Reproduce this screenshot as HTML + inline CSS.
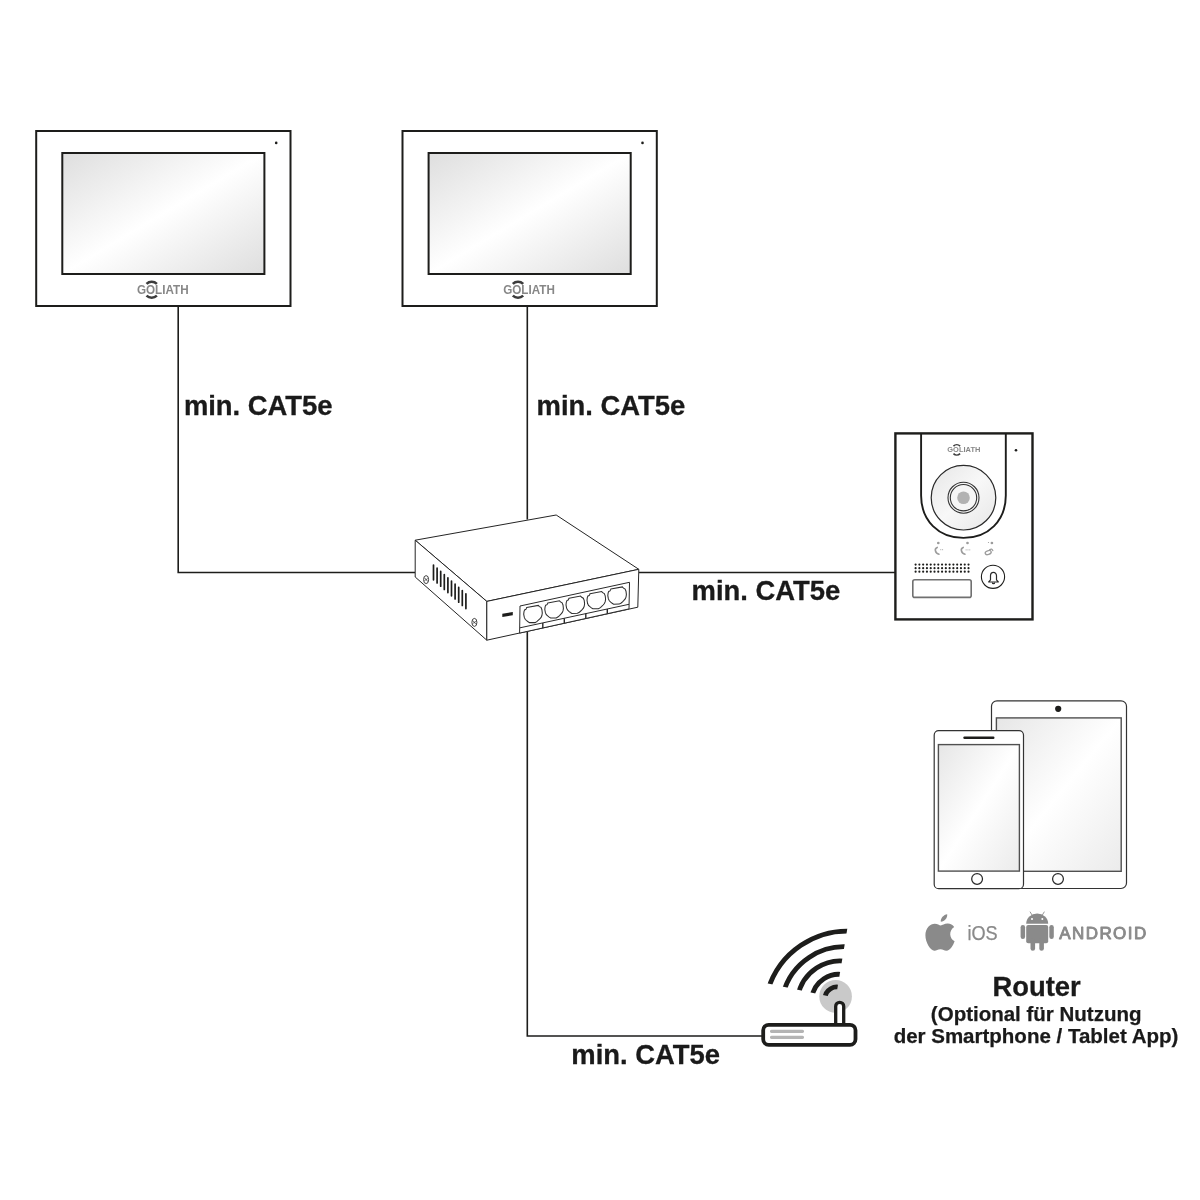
<!DOCTYPE html>
<html lang="de">
<head>
<meta charset="utf-8">
<title>Goliath IP Türsprechanlage – Anschlussplan</title>
<style>
  html, body { margin: 0; padding: 0; background: #ffffff; }
  body { width: 1200px; height: 1200px; overflow: hidden; }
  svg { display: block; will-change: transform; }
  text { font-family: "Liberation Sans", sans-serif; }
  .lbl { font-weight: bold; font-size: 27.4px; fill: #1a1a1a; stroke: #1a1a1a; stroke-width: 0.3px; }
  .sub { font-weight: bold; font-size: 20.5px; fill: #1a1a1a; stroke: #1a1a1a; stroke-width: 0.25px; }
  .wire { stroke: #1d1d1b; stroke-width: 1.6; fill: none; }
  .thin { stroke: #242424; stroke-width: 1; stroke-linejoin: round; }
</style>
</head>
<body>
<svg width="1200" height="1200" viewBox="0 0 1200 1200">
  <defs>
    <linearGradient id="scr" x1="0" y1="0" x2="1" y2="1">
      <stop offset="0" stop-color="#dedede"/>
      <stop offset="0.5" stop-color="#ffffff"/>
      <stop offset="1" stop-color="#dedede"/>
    </linearGradient>
    <linearGradient id="lens" x1="0" y1="0" x2="1" y2="1">
      <stop offset="0" stop-color="#e6e6e6"/>
      <stop offset="0.5" stop-color="#f8f8f8"/>
      <stop offset="1" stop-color="#e6e6e6"/>
    </linearGradient>
    <linearGradient id="scr2" x1="0" y1="0" x2="1" y2="1">
      <stop offset="0" stop-color="#e6e6e6"/>
      <stop offset="0.5" stop-color="#ffffff"/>
      <stop offset="1" stop-color="#ebebeb"/>
    </linearGradient>
    <clipPath id="wedge"><polygon points="835.83,997.76 736,976.85 736,900 852.06,900"/></clipPath>
  </defs>
  <rect x="0" y="0" width="1200" height="1200" fill="#ffffff"/>

  <!-- WIRES -->
  <path class="wire" d="M178.2 306 V572.5 H415"/>
  <path class="wire" d="M527.3 306 V519.5"/>
  <path class="wire" d="M639 572.5 H895"/>
  <path class="wire" d="M527.3 632 V1036 H762"/>

  <!-- MONITORS -->
  <g>
    <rect x="36.2" y="131" width="254.3" height="175" fill="#ffffff" stroke="#1d1d1b" stroke-width="2"/>
    <rect x="62.3" y="153" width="202.1" height="121" fill="url(#scr)" stroke="#1d1d1b" stroke-width="2"/>
    <circle cx="276.2" cy="142.9" r="1.3" fill="#1d1d1b"/>
    <g transform="translate(136.9 293.6)">
      <text x="0" y="0" font-size="12.4" font-weight="bold" fill="#878787" textLength="51.7" lengthAdjust="spacingAndGlyphs">GOLIATH</text>
      <path d="M9.6 -9.7 A7.4 7.4 0 0 1 20 -9.7 M9.6 2 A7.4 7.4 0 0 0 20 2" fill="none" stroke="#3c3c3c" stroke-width="2.5"/>
    </g>
  </g>
  <g>
    <rect x="402.5" y="131" width="254.3" height="175" fill="#ffffff" stroke="#1d1d1b" stroke-width="2"/>
    <rect x="428.6" y="153" width="202.1" height="121" fill="url(#scr)" stroke="#1d1d1b" stroke-width="2"/>
    <circle cx="642.5" cy="142.9" r="1.3" fill="#1d1d1b"/>
    <g transform="translate(503.2 293.6)">
      <text x="0" y="0" font-size="12.4" font-weight="bold" fill="#878787" textLength="51.7" lengthAdjust="spacingAndGlyphs">GOLIATH</text>
      <path d="M9.6 -9.7 A7.4 7.4 0 0 1 20 -9.7 M9.6 2 A7.4 7.4 0 0 0 20 2" fill="none" stroke="#3c3c3c" stroke-width="2.5"/>
    </g>
  </g>

  <!-- LABELS -->
  <text class="lbl" x="183.9" y="415.1">min. CAT5e</text>
  <text class="lbl" x="536.6" y="415.1">min. CAT5e</text>
  <text class="lbl" x="691.6" y="599.8">min. CAT5e</text>
  <text class="lbl" x="571.3" y="1064.1">min. CAT5e</text>

  <!-- SWITCH -->
  <g id="switch">
    <polygon points="415.2,540.2 556.2,515.0 638.8,569.3 486.8,601.4" fill="#fff" class="thin"/>
    <polygon points="415.2,540.2 415.2,577.0 486.8,640.2 486.8,601.4" fill="#fff" class="thin"/>
    <polygon points="486.8,601.4 486.8,640.2 637.8,607.2 638.8,569.3" fill="#fff" class="thin"/>
    <path d="M433.5 565.0v14.8 M437.1 568.2v14.8 M440.7 571.4v14.8 M444.3 574.6v14.8 M447.9 577.8v14.8 M451.5 581.0v14.8 M455.1 584.2v14.8 M458.7 587.4v14.8 M462.3 590.6v14.8 M465.9 593.8v14.8" stroke="#1d1d1b" stroke-width="1.7" stroke-linecap="round" fill="none"/>
    <ellipse cx="426.1" cy="579.6" rx="2.5" ry="4" fill="#fff" stroke="#2a2a2a" stroke-width="0.9"/>
    <path d="M424.6 577.8 L427.6 581.4 M424.5 580.6 L427.7 578.6" stroke="#2a2a2a" stroke-width="0.7" fill="none"/>
    <ellipse cx="474.4" cy="622.4" rx="2.5" ry="4" fill="#fff" stroke="#2a2a2a" stroke-width="0.9"/>
    <path d="M472.9 620.6 L475.9 624.2 M472.8 623.4 L476.0 621.4" stroke="#2a2a2a" stroke-width="0.7" fill="none"/>
    <polygon points="502.3,613.8 512.8,612 512.8,615.3 502.3,617.1" fill="#1d1d1b"/>
    <polygon points="520.0,606.0 629.5,582.3 629.0,608.9 519.6,633.1" fill="#fff" stroke="#2a2a2a" stroke-width="1"/>
    <path d="M520.0 627.8 L629.0 604.3" fill="none" stroke="#2a2a2a" stroke-width="1"/>
    <path d="M542.8 622.9V628.0 M564.3 618.2V623.2 M585.8 613.6V618.5 M607.3 609.0V613.7" stroke="#2a2a2a" stroke-width="1.4" fill="none"/>
    <path id="ports" d="M526.7 607.5 L538.3 605.4 L539.4 606.6 L541.0 607.4 L541.9 609.7 L542.3 613.1 L541.9 615.5 L541.1 617.4 L539.8 618.9 L538.4 620.2 L537.1 621.4 L535.1 622.6 L529.5 622.6 L528.1 621.7 L526.6 620.6 L525.2 619.3 L524.3 617.4 L523.7 614.2 L524.0 611.6 L524.6 609.9 L525.9 609.3 L526.4 608.4Z M547.8 602.9 L559.4 600.7 L560.5 601.9 L562.1 602.8 L563.0 605.0 L563.4 608.4 L563.0 610.9 L562.2 612.7 L560.9 614.2 L559.5 615.6 L558.2 616.8 L556.2 617.9 L550.6 618.0 L549.2 617.1 L547.7 615.9 L546.3 614.6 L545.4 612.7 L544.8 609.5 L545.1 606.9 L545.7 605.2 L547.0 604.7 L547.5 603.7Z M569.0 598.3 L580.6 596.1 L581.7 597.3 L583.3 598.2 L584.2 600.4 L584.6 603.8 L584.2 606.3 L583.4 608.1 L582.1 609.6 L580.7 611.0 L579.4 612.2 L577.4 613.3 L571.8 613.4 L570.4 612.5 L568.9 611.3 L567.5 610.0 L566.6 608.1 L566.0 604.9 L566.3 602.3 L566.9 600.6 L568.2 600.1 L568.7 599.1Z M590.0 593.7 L601.6 591.5 L602.7 592.7 L604.3 593.6 L605.2 595.8 L605.6 599.2 L605.2 601.7 L604.4 603.5 L603.1 605.0 L601.7 606.4 L600.4 607.6 L598.4 608.7 L592.8 608.8 L591.4 607.9 L589.9 606.7 L588.5 605.4 L587.6 603.5 L587.0 600.3 L587.3 597.7 L587.9 596.0 L589.2 595.5 L589.7 594.5Z M610.8 589.1 L622.4 586.9 L623.5 588.1 L625.1 589.0 L626.0 591.2 L626.4 594.6 L626.0 597.1 L625.2 598.9 L623.9 600.4 L622.5 601.8 L621.2 603.0 L619.2 604.1 L613.6 604.2 L612.2 603.3 L610.7 602.1 L609.3 600.8 L608.4 598.9 L607.8 595.7 L608.1 593.1 L608.7 591.4 L610.0 590.9 L610.5 589.9Z" fill="#fff" stroke="#2e2e2e" stroke-width="1.05" stroke-linejoin="miter"/>
  </g>
  <!-- DOORSTATION -->
  <g id="door">
    <rect x="895.4" y="433.4" width="137.1" height="186" fill="#fff" stroke="#1d1d1b" stroke-width="2.4"/>
    <path d="M921.1 433.4 V495.5 C921.1 520.5 938.5 537.9 963.45 537.9 C988.4 537.9 1005.8 520.5 1005.8 495.5 V433.4" fill="none" stroke="#1d1d1b" stroke-width="1.9"/>
    <circle cx="963.5" cy="497.7" r="32.3" fill="url(#lens)" stroke="#2a2a2a" stroke-width="1.2"/>
    <circle cx="963.5" cy="497.7" r="15.5" fill="#f6f6f6" stroke="#333" stroke-width="1.1"/>
    <circle cx="963.5" cy="497.7" r="13.2" fill="#f6f6f6" stroke="#333" stroke-width="1.1"/>
    <circle cx="963.5" cy="497.7" r="6.3" fill="#b2b2b2"/>
    <circle cx="1016" cy="450.2" r="1.3" fill="#1d1d1b"/>
    <g transform="translate(947.3 452.3) scale(0.64)">
      <text x="0" y="0" font-size="12.4" font-weight="bold" fill="#878787" textLength="51.7" lengthAdjust="spacingAndGlyphs">GOLIATH</text>
      <path d="M9.6 -9.7 A7.4 7.4 0 0 1 20 -9.7 M9.6 2 A7.4 7.4 0 0 0 20 2" fill="none" stroke="#3c3c3c" stroke-width="2.5"/>
    </g>
    <g fill="none" stroke="#9c9c9c" stroke-width="1.3" stroke-linecap="round"><path d="M937.2 547.4 C933.8 548.6 935.4 553.6 939 554.2" stroke-width="1.6"/><path d="M963.2 547.4 C959.8 548.6 961.4 553.6 965 554.2" stroke-width="1.6"/><ellipse cx="988.2" cy="552.6" rx="3.1" ry="1.9" transform="rotate(-18 988.2 552.6)"/><path d="M989.6 549.8 q2.400 -1.800 3.200 0.800"/><path d="M940.6 549.7 h0.300 M942.4 549.7 h0.300 M966 549.9 h0.300 M967.8 549.9 h0.300 M969.6 549.9 h0.300" stroke-width="0.8"/></g>
    <g fill="#9c9c9c"><circle cx="938.3" cy="543" r="1.35"/><circle cx="967.5" cy="543" r="1.35"/><circle cx="991.9" cy="543" r="1.35"/><circle cx="988.5" cy="542.5" r="0.6"/></g>
    <g fill="#1d1d1b"><circle cx="915.60" cy="564.60" r="1.08"/><circle cx="919.38" cy="564.60" r="1.08"/><circle cx="923.16" cy="564.60" r="1.08"/><circle cx="926.94" cy="564.60" r="1.08"/><circle cx="930.72" cy="564.60" r="1.08"/><circle cx="934.50" cy="564.60" r="1.08"/><circle cx="938.28" cy="564.60" r="1.08"/><circle cx="942.06" cy="564.60" r="1.08"/><circle cx="945.84" cy="564.60" r="1.08"/><circle cx="949.62" cy="564.60" r="1.08"/><circle cx="953.40" cy="564.60" r="1.08"/><circle cx="957.18" cy="564.60" r="1.08"/><circle cx="960.96" cy="564.60" r="1.08"/><circle cx="964.74" cy="564.60" r="1.08"/><circle cx="968.52" cy="564.60" r="1.08"/><circle cx="915.60" cy="568.15" r="1.08"/><circle cx="919.38" cy="568.15" r="1.08"/><circle cx="923.16" cy="568.15" r="1.08"/><circle cx="926.94" cy="568.15" r="1.08"/><circle cx="930.72" cy="568.15" r="1.08"/><circle cx="934.50" cy="568.15" r="1.08"/><circle cx="938.28" cy="568.15" r="1.08"/><circle cx="942.06" cy="568.15" r="1.08"/><circle cx="945.84" cy="568.15" r="1.08"/><circle cx="949.62" cy="568.15" r="1.08"/><circle cx="953.40" cy="568.15" r="1.08"/><circle cx="957.18" cy="568.15" r="1.08"/><circle cx="960.96" cy="568.15" r="1.08"/><circle cx="964.74" cy="568.15" r="1.08"/><circle cx="968.52" cy="568.15" r="1.08"/><circle cx="915.60" cy="571.70" r="1.08"/><circle cx="919.38" cy="571.70" r="1.08"/><circle cx="923.16" cy="571.70" r="1.08"/><circle cx="926.94" cy="571.70" r="1.08"/><circle cx="930.72" cy="571.70" r="1.08"/><circle cx="934.50" cy="571.70" r="1.08"/><circle cx="938.28" cy="571.70" r="1.08"/><circle cx="942.06" cy="571.70" r="1.08"/><circle cx="945.84" cy="571.70" r="1.08"/><circle cx="949.62" cy="571.70" r="1.08"/><circle cx="953.40" cy="571.70" r="1.08"/><circle cx="957.18" cy="571.70" r="1.08"/><circle cx="960.96" cy="571.70" r="1.08"/><circle cx="964.74" cy="571.70" r="1.08"/><circle cx="968.52" cy="571.70" r="1.08"/></g>
    <rect x="912.8" y="579.8" width="58.4" height="17.6" rx="2" fill="#fff" stroke="#707070" stroke-width="1.6"/>
    <circle cx="993" cy="576.8" r="11.6" fill="#fff" stroke="#1d1d1b" stroke-width="1.1"/>
    <path d="M988.7 582 L990.5 579.8 V575.8 A3 3.500 0 0 1 996.5 575.8 V579.8 L998.3 582 Z M992.4 582.8 a1.100 0.900 0 0 0 2.200 0" fill="none" stroke="#2a2a2a" stroke-width="1.2" stroke-linejoin="round"/>
  </g>
  <!-- DEVICES -->
  <g id="devices">
    <rect x="991.5" y="700.8" width="135" height="187.7" rx="5.5" fill="#fff" stroke="#333" stroke-width="1.2"/>
    <rect x="996.4" y="717.9" width="124.8" height="153.4" fill="url(#scr2)" stroke="#505050" stroke-width="1.4"/>
    <circle cx="1058.2" cy="708.8" r="3.1" fill="#1d1d1b"/>
    <circle cx="1058" cy="878.9" r="5.4" fill="#fff" stroke="#2a2a2a" stroke-width="1.25"/>
    <rect x="934.2" y="730.6" width="89.3" height="158.1" rx="4.5" fill="#fff" stroke="#333" stroke-width="1.2"/>
    <rect x="938.4" y="744.6" width="81" height="126.5" fill="url(#scr2)" stroke="#505050" stroke-width="1.4"/>
    <line x1="964.5" y1="737.7" x2="993.3" y2="737.7" stroke="#1d1d1b" stroke-width="2.4" stroke-linecap="round"/>
    <circle cx="977.1" cy="878.9" r="5.4" fill="#fff" stroke="#2a2a2a" stroke-width="1.25"/>
    <g fill="#8a8a8a"><path d="M947.2 914.2 c0.4 3.6 -2.6 7.2 -6.4 7.6 c-0.6 -3.6 3 -7.2 6.400 -7.6 z"/><path d="M954.6 941.200 c-1.400 4.000 -4.400 9.400 -8.200 9.500 c-2.400 0 -3.200 -1.500 -6.000 -1.500 c-2.800 0 -3.700 1.500 -6.000 1.500 c-3.800 0.100 -9.000 -8.000 -9.000 -15.400 c0 -7.400 4.800 -11.600 9.400 -11.600 c2.600 0 4.600 1.700 6.000 1.700 c1.400 0 3.800 -1.900 7.000 -1.800 c2.600 0.100 5.000 1.300 6.400 3.500 c-5.800 3.600 -4.800 11.700 0.400 14.100 z"/></g>
    <text x="967.4" y="939.5" font-size="20" fill="#8a8a8a" stroke="#8a8a8a" stroke-width="0.25" textLength="30.2" lengthAdjust="spacingAndGlyphs">iOS</text>
    <g fill="#8a8a8a"><path d="M1026.2 923.7 a11 10.1 0 0 1 22 0 z"/><rect x="1026.2" y="924.9" width="22" height="18.3" rx="2"/><rect x="1020.6" y="924.9" width="4.5" height="14" rx="2.25"/><rect x="1049.3" y="924.9" width="4.5" height="14" rx="2.25"/><rect x="1030.5" y="938" width="4.6" height="12.7" rx="2.3"/><rect x="1039.3" y="938" width="4.6" height="12.7" rx="2.3"/><path d="M1030.2 912 l2.2 3.6 M1044.2 912 l-2.2 3.6" stroke="#8a8a8a" stroke-width="0.9" stroke-linecap="round"/></g>
    <circle cx="1032" cy="919.1" r="1" fill="#fff"/><circle cx="1042.3" cy="919.1" r="1" fill="#fff"/>
    <text x="1059.2" y="939.3" font-size="17" fill="#8a8a8a" stroke="#8a8a8a" stroke-width="0.9" stroke-linejoin="round" textLength="87" lengthAdjust="spacing" style="text-transform:uppercase">android</text>
  </g>
  <!-- ROUTER -->
  <g id="router">
    <circle cx="835.6" cy="996.4" r="16.3" fill="#c9c9c9"/>
    <path id="waves" d="M767.93 990.14 A83 83 0 0 1 854.89 931.44 M783.15 993.58 A63.2 63.2 0 0 1 852.38 947.23 M797.89 996.50 A43 43 0 0 1 849.92 962.07 M811.74 999.37 A27 27 0 0 1 847.63 975.91 M825.21 999.84 A11.5 11.5 0 0 1 842.98 988.96" fill="none" stroke="#1d1d1b" stroke-width="4.8" clip-path="url(#wedge)"/>
    <path d="M835.7 1025 V1006.3 a4 4 0 0 1 8 0 V1025" fill="#fff" stroke="#1d1d1b" stroke-width="3.3"/>
    <rect x="763.2" y="1024.8" width="92.3" height="20" rx="5.5" fill="#fff" stroke="#1d1d1b" stroke-width="3.8"/>
    <path d="M771.5 1031.3 H802.500 M771.5 1037.3 H802.500" stroke="#b4b4b4" stroke-width="3.200" stroke-linecap="round" fill="none"/>
  </g>

  <text class="lbl" x="1036.6" y="995.8" text-anchor="middle">Router</text>
  <text class="sub" x="1036.2" y="1020.8" text-anchor="middle">(Optional für Nutzung</text>
  <text class="sub" x="1036" y="1042.7" text-anchor="middle">der Smartphone / Tablet App)</text>
</svg>
</body>
</html>
